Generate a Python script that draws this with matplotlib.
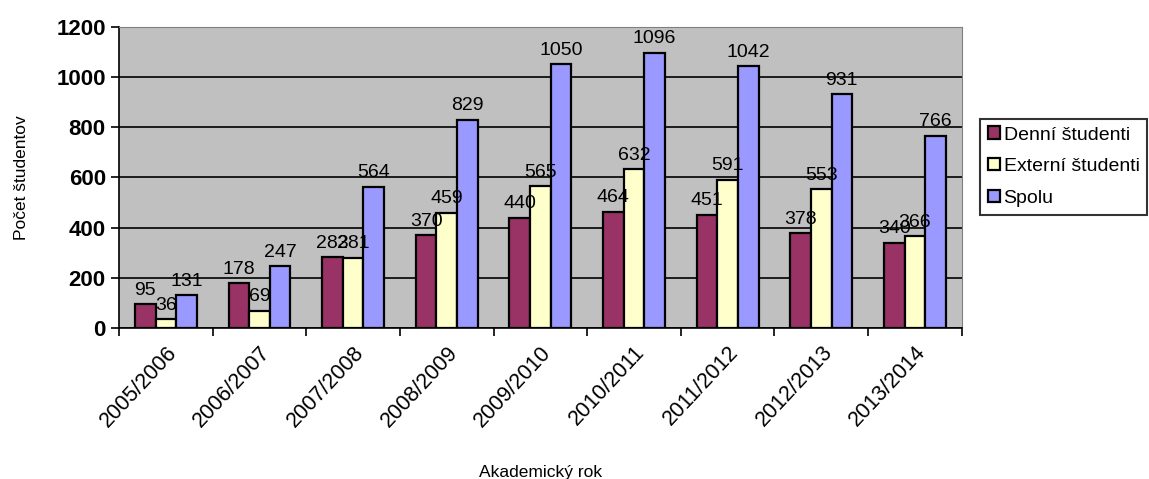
import numpy as np
import matplotlib.pyplot as plt

plt.rcParams["font.family"] = ["Liberation Sans", "DejaVu Sans"]

roky = ["2005/2006", "2006/2007", "2007/2008", "2008/2009", "2009/2010",
        "2010/2011", "2011/2012", "2012/2013", "2013/2014"]
denni = [95, 178, 283, 370, 440, 464, 451, 378, 340]
externi = [36, 69, 281, 459, 565, 632, 591, 553, 366]
spolu = [131, 247, 564, 829, 1050, 1096, 1042, 931, 766]

series = [
    ("Denní študenti", denni, "#993366"),
    ("Externí študenti", externi, "#FFFFCC"),
    ("Spolu", spolu, "#9999FF"),
]

fig = plt.figure(figsize=(11.49, 4.79), dpi=100)
ax = fig.add_axes([0.1036, 0.315, 0.7334, 0.629])
ax.set_facecolor("#C0C0C0")

x = np.arange(len(roky))
w = 0.22
for i, (name, vals, col) in enumerate(series):
    bars = ax.bar(x + (i - 1) * w, vals, w, color=col, edgecolor="black",
                  linewidth=1.6, label=name, zorder=3)
    ax.bar_label(bars, padding=4, fontsize=14, zorder=4)

ax.set_xlim(-0.5, len(roky) - 0.5)
ax.set_ylim(0, 1200)
ax.set_yticks(range(0, 1201, 200))
ax.yaxis.grid(True, color="black", linewidth=1.2, zorder=1)
ax.set_axisbelow(True)

ax.set_xticks(x)
ax.set_xticklabels(roky, rotation=47, ha="right", rotation_mode="anchor",
                   fontsize=15.5)
ax.tick_params(axis="x", length=0, pad=10)
ax.set_xticks(np.arange(-0.5, len(roky)), minor=True)
ax.tick_params(axis="x", which="minor", length=6, width=1.2)
ax.tick_params(axis="y", length=6, width=1.2, labelsize=16)
for lbl in ax.get_yticklabels():
    lbl.set_fontweight("bold")

for s in ("top", "right"):
    ax.spines[s].set_color("#808080")
for s in ("left", "bottom"):
    ax.spines[s].set_color("black")
    ax.spines[s].set_linewidth(1.2)

ax.set_ylabel("Počet študentov", fontsize=12.5, labelpad=20)
ax.set_xlabel("Akademický rok", fontsize=12.5, labelpad=24)

leg = ax.legend(loc="upper left", bbox_to_anchor=(1.022, 0.695), fontsize=14,
                frameon=True, fancybox=False, edgecolor="black",
                handlelength=0.6, handleheight=0.6, handletextpad=0.2,
                borderpad=0.4, labelspacing=0.75, borderaxespad=0)
leg.get_frame().set_linewidth(1.5)

fig.savefig("out.png", dpi=100)
